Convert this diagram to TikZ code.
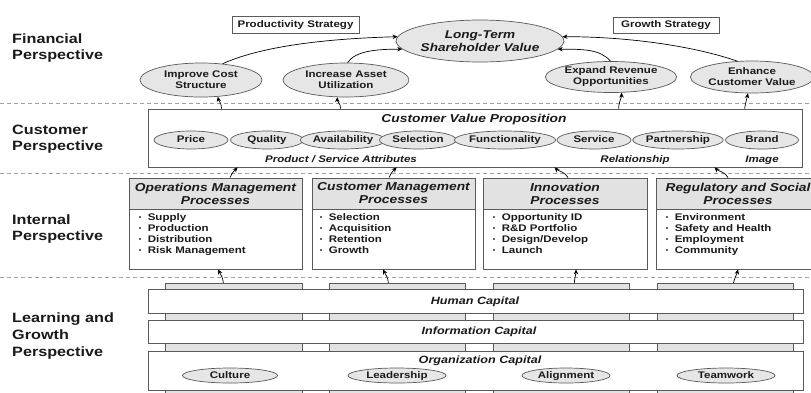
\documentclass[tikz,border=0pt]{standalone}
\usepackage{fontspec}
\setmainfont{Liberation Sans}[FakeStretch=1.2]
\usetikzlibrary{shapes.geometric,arrows.meta}

\definecolor{inkc}{HTML}{1A1A1A}
\definecolor{linec}{HTML}{5A5A5A}
\definecolor{ovalfill}{HTML}{E6E6E6}
\definecolor{headfill}{HTML}{E2E2E2}
\definecolor{sepc}{HTML}{A0A0A0}

\newcommand{\smallfnt}{\fontsize{9.6}{11}\selectfont}
\newcommand{\bul}{\makebox[9pt][l]{\fontsize{6}{6}\selectfont\raisebox{0.25ex}{\textbullet}}}

\tikzset{
  perspective/.style={anchor=west, align=left, text=inkc, inner sep=0pt,
    font=\bfseries\fontsize{13.5}{16.5}\selectfont},
  oval/.style={ellipse, draw=linec, fill=ovalfill, line width=0.7pt, inner sep=0pt,
    align=center, text=inkc, font=\bfseries\smallfnt},
  oval1/.style={oval, text height=7pt, text depth=2pt},
  stratbox/.style={draw=linec, fill=white, line width=0.7pt, inner sep=0pt,
    text=inkc, font=\bfseries\smallfnt, text height=7pt, text depth=2pt},
  panel/.style={draw=linec, fill=white, line width=0.8pt, inner sep=0pt},
  prochead/.style={draw=linec, fill=headfill, line width=0.8pt, inner sep=0pt,
    align=center, text=inkc, font=\bfseries\itshape\fontsize{11.5}{13}\selectfont},
  bullets/.style={anchor=north west, inner sep=0pt, align=left, text=inkc,
    font=\bfseries\smallfnt},
  strip/.style={draw=linec, fill=headfill, line width=0.7pt, inner sep=0pt, anchor=north west},
  capbar/.style={draw=linec, fill=white, line width=0.8pt, inner sep=0pt, anchor=north west},
  groupnote/.style={inner sep=0pt, text=inkc, font=\bfseries\itshape\smallfnt,
    text height=7pt, text depth=2pt},
  captitle/.style={groupnote, font=\bfseries\itshape\fontsize{10.5}{12}\selectfont,
    text height=8pt, text depth=2pt},
  arr/.style={draw=black, line width=0.7pt, -{Stealth[length=5pt,width=4.5pt]}},
  sepline/.style={draw=sepc, line width=0.7pt, dash pattern=on 4pt off 3pt},
}

\begin{document}
\begin{tikzpicture}[x=1pt,y=-1pt]
\clip (0,0) rectangle (811,392);
\fill[white] (0,0) rectangle (811,392);

% perspective separators
\draw[sepline] (0,103) -- (811,103);
\draw[sepline] (0,173) -- (811,173);
\draw[sepline] (0,277) -- (811,277);

% perspective labels
\node[perspective] (lfin) at (12,48) {Financial\\Perspective};
\node[perspective] (lcus) at (12,139) {Customer\\Perspective};
\node[perspective] (lint) at (12,229) {Internal\\Perspective};
\node[perspective] (llg)  at (12,336) {Learning and\\Growth\\Perspective};

% ---------------- financial ----------------
\node[stratbox, minimum width=127pt, minimum height=17pt] (prod) at (295.5,24.5) {Productivity Strategy};
\node[stratbox, minimum width=106pt, minimum height=16pt] (grow) at (666,25) {Growth Strategy};

\node[oval, minimum width=157pt, minimum height=42pt,
      font=\bfseries\itshape\fontsize{11.3}{13.5}\selectfont] (ltsv) at (480,41)
      {Long-Term\\Shareholder Value};

\node[oval, minimum width=122pt, minimum height=34pt] (ics) at (201,80) {Improve Cost\\Structure};
\node[oval, minimum width=126pt, minimum height=34pt] (iau) at (346,80) {Increase Asset\\Utilization};
\node[oval, minimum width=123pt, minimum height=31pt] (ero) at (611,77) {Expand Revenue\\Opportunities};
\node[oval, minimum width=118pt, minimum height=32pt] (ecv) at (752,77) {Enhance\\Customer Value};

\draw[arr] (ics.37) .. controls +(40,-18) and +(-70,2) .. (ltsv.177);
\draw[arr] (iau.85) .. controls +(8,-12) and +(-25,0) .. (ltsv.186);
\draw[arr] (ero.92) .. controls +(-10,-12) and +(25,0) .. (ltsv.-6);
\draw[arr] (ecv.133) .. controls +(-40,-14) and +(70,0) .. (ltsv.3);

% ---------------- customer ----------------
\node[panel, minimum width=654pt, minimum height=58pt] (cvp) at (475,138) {};
\node[groupnote, font=\bfseries\itshape\fontsize{11.5}{13}\selectfont, text height=8.5pt] (cvpt) at (474,119) {Customer Value Proposition};

\node[oval1, minimum width=74pt, minimum height=18pt] (price) at (191,140) {Price};
\node[oval1, minimum width=73pt, minimum height=18pt] (qual)  at (267,140) {Quality};
\node[oval1, minimum width=71pt, minimum height=18pt] (avail) at (343,140) {Availability};
\node[oval1, minimum width=77pt, minimum height=18pt] (sel)   at (418,140) {Selection};
\node[oval1, minimum width=86pt, minimum height=18pt] (func)  at (505,140) {Functionality};
\node[oval1, minimum width=74pt, minimum height=18pt] (serv)  at (594,140) {Service};
\node[oval1, minimum width=81pt, minimum height=18pt] (part)  at (678,140) {Partnership};
\node[oval1, minimum width=73pt, minimum height=18pt] (brand) at (762,140) {Brand};

\node[groupnote] (gattr) at (341,160) {Product / Service Attributes};
\node[groupnote] (grel)  at (635,160) {Relationship};
\node[groupnote] (gimg)  at (762,160) {Image};

\draw[arr] ([xshift=74pt]cvp.north west) .. controls +(0,-5) and +(1,4) .. (ics.-45);
\draw[arr] ([xshift=193pt]cvp.north west) .. controls +(0,-5) and +(0,4) .. (iau.-117);
\draw[arr] ([xshift=471pt]cvp.north west) .. controls +(0,-6) and +(0,5) .. (ero.-56);
\draw[arr] ([xshift=597pt]cvp.north west) .. controls +(1,-6) and +(-1,5) .. (ecv.-104);

% ---------------- internal ----------------
\node[panel, minimum width=173pt, minimum height=91pt] (op) at (215.5,223.5) {};
\node[prochead, minimum width=173pt, minimum height=31pt, anchor=north] (oph) at (op.north) {Operations Management\\Processes};
\node[bullets] (opl) at ([xshift=10pt,yshift=-35.5pt]op.north west)
  {\bul Supply\\\bul Production\\\bul Distribution\\\bul Risk Management};

\node[panel, minimum width=163pt, minimum height=91pt] (cm) at (393.5,223.5) {};
\node[prochead, minimum width=163pt, minimum height=31pt, anchor=north] (cmh) at (cm.north) {Customer Management\\Processes};
\node[bullets] (cml) at ([xshift=8pt,yshift=-35.5pt]cm.north west)
  {\bul Selection\\\bul Acquisition\\\bul Retention\\\bul Growth};

\node[panel, minimum width=164pt, minimum height=91pt] (inn) at (565,223.5) {};
\node[prochead, minimum width=164pt, minimum height=31pt, anchor=north] (innh) at (inn.north) {Innovation\\Processes};
\node[bullets] (innl) at ([xshift=10pt,yshift=-35.5pt]inn.north west)
  {\bul Opportunity ID\\\bul R\&D Portfolio\\\bul Design/Develop\\\bul Launch};

\node[panel, minimum width=164pt, minimum height=91pt] (rs) at (738,223.5) {};
\node[prochead, minimum width=164pt, minimum height=31pt, anchor=north] (rsh) at (rs.north) {Regulatory and Social\\Processes};
\node[bullets] (rsl) at ([xshift=10pt,yshift=-35.5pt]rs.north west)
  {\bul Environment\\\bul Safety and Health\\\bul Employment\\\bul Community};

\draw[arr] ([xshift=14.5pt]op.north) .. controls +(2,-5) and +(-3,3) .. ([xshift=90pt]cvp.south west);
\draw[arr] ([xshift=-4.5pt]cm.north) .. controls +(2,-5) and +(-3,3) .. ([xshift=249pt]cvp.south west);
\draw[arr] ([xshift=3pt]inn.north) .. controls +(-2,-5) and +(3,3) .. ([xshift=407pt]cvp.south west);
\draw[arr] ([xshift=-10pt]rs.north) .. controls +(-2,-5) and +(3,3) .. ([xshift=567pt]cvp.south west);

% ---------------- learning and growth ----------------
\node[strip, minimum width=137pt, minimum height=110pt] (s1) at (165,283) {};
\node[strip, minimum width=136pt, minimum height=110pt] (s2) at (329,283) {};
\node[strip, minimum width=136pt, minimum height=110pt] (s3) at (493,283) {};
\node[strip, minimum width=136pt, minimum height=110pt] (s4) at (657,283) {};

\node[capbar, minimum width=655pt, minimum height=24pt] (hc) at (148,289) {};
\node[capbar, minimum width=655pt, minimum height=23pt] (ic) at (148,320) {};
\node[capbar, minimum width=655pt, minimum height=39pt] (oc) at (148,351) {};

\node[captitle] (hct) at (475,301.5) {Human Capital};
\node[captitle] (ict) at (479,331.5) {Information Capital};
\node[captitle] (oct) at (480,360.5) {Organization Capital};

\node[oval1, minimum width=95pt, minimum height=15pt] (cult) at (230,375.5) {Culture};
\node[oval1, minimum width=98pt, minimum height=15pt] (lead) at (397,375.5) {Leadership};
\node[oval1, minimum width=88pt, minimum height=15pt] (align) at (566,375.5) {Alignment};
\node[oval1, minimum width=98pt, minimum height=15pt] (team) at (726,375.5) {Teamwork};

\draw[arr] ([xshift=-10.5pt]s1.north) .. controls +(0,-5) and +(2,4) .. ([xshift=2.5pt]op.south);
\draw[arr] ([xshift=-9pt]s2.north) .. controls +(0,-5) and +(2,4) .. ([xshift=-10.5pt]cm.south);
\draw[arr] ([xshift=13pt]s3.north) .. controls +(0,-4) and +(0,4) .. ([xshift=11pt]inn.south);
\draw[arr] ([xshift=8pt]s4.north) .. controls +(1,-4) and +(-1,4) .. (rs.south);

\end{tikzpicture}
\end{document}
